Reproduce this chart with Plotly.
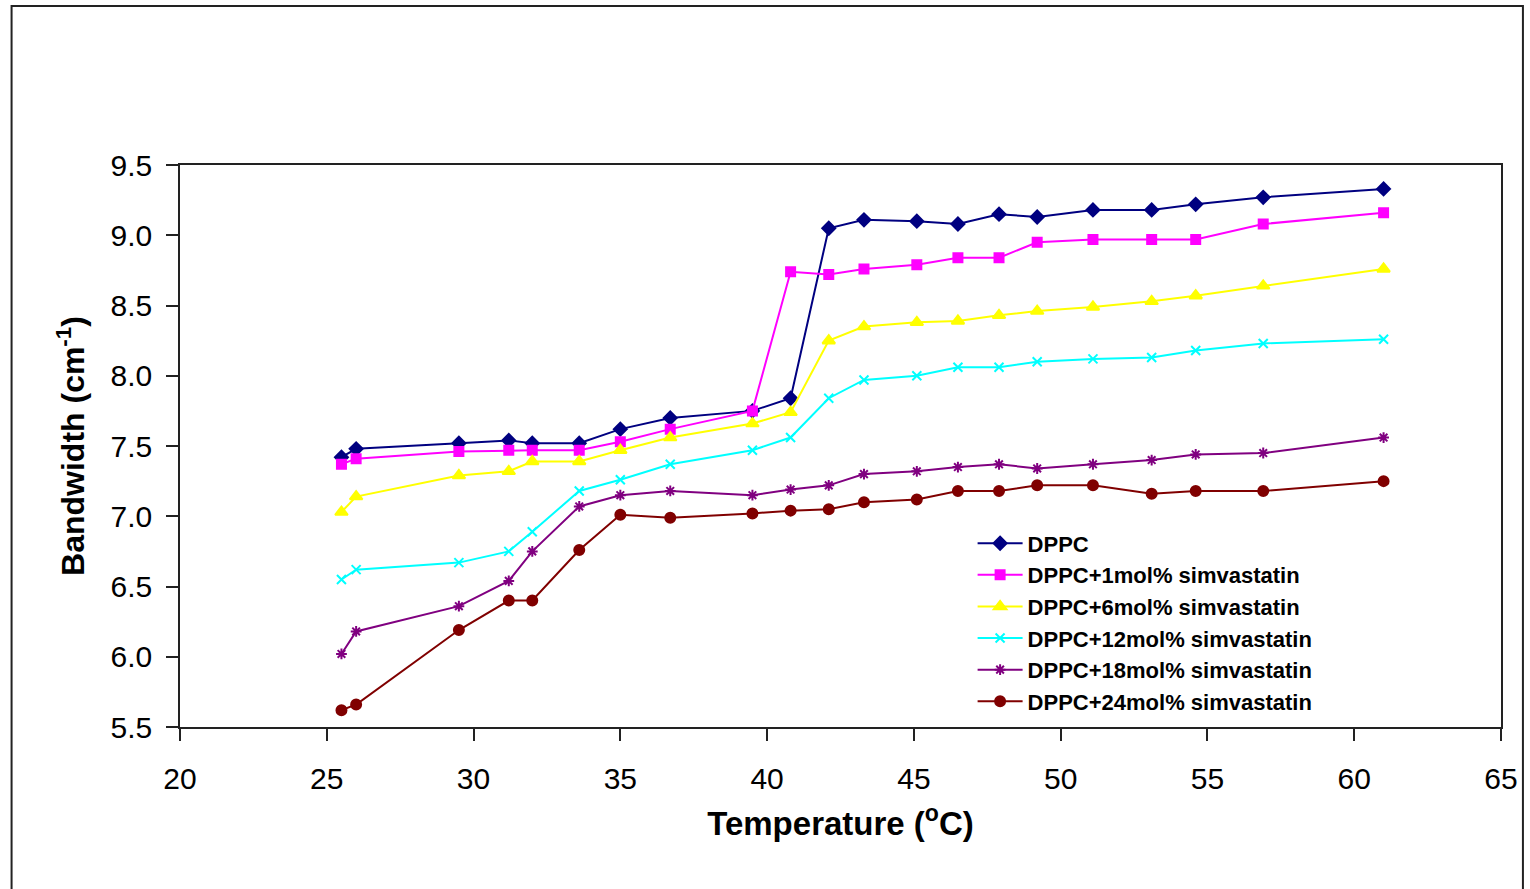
import plotly.graph_objects as go

temperature = [25.5, 26.0, 29.5, 31.2, 32.0, 33.6, 35.0, 36.7, 39.5, 40.8, 42.1,
               43.3, 45.1, 46.5, 47.9, 49.2, 51.1, 53.1, 54.6, 56.9, 61.0]

dppc = [7.42, 7.48, 7.52, 7.54, 7.52, 7.52, 7.62, 7.70, 7.75, 7.84, 9.05,
        9.11, 9.10, 9.08, 9.15, 9.13, 9.18, 9.18, 9.22, 9.27, 9.33]
sim1 = [7.37, 7.41, 7.46, 7.47, 7.47, 7.47, 7.53, 7.62, 7.75, 8.74, 8.72,
        8.76, 8.79, 8.84, 8.84, 8.95, 8.97, 8.97, 8.97, 9.08, 9.16]
sim6 = [7.03, 7.14, 7.29, 7.32, 7.39, 7.39, 7.47, 7.56, 7.66, 7.74, 8.25,
        8.35, 8.38, 8.39, 8.43, 8.46, 8.49, 8.53, 8.57, 8.64, 8.76]
sim12 = [6.55, 6.62, 6.67, 6.75, 6.89, 7.18, 7.26, 7.37, 7.47, 7.56, 7.84,
         7.97, 8.00, 8.06, 8.06, 8.10, 8.12, 8.13, 8.18, 8.23, 8.26]
sim18 = [6.02, 6.18, 6.36, 6.54, 6.75, 7.07, 7.15, 7.18, 7.15, 7.19, 7.22,
         7.30, 7.32, 7.35, 7.37, 7.34, 7.37, 7.40, 7.44, 7.45, 7.56]
sim24 = [5.62, 5.66, 6.19, 6.40, 6.40, 6.76, 7.01, 6.99, 7.02, 7.04, 7.05,
         7.10, 7.12, 7.18, 7.18, 7.22, 7.22, 7.16, 7.18, 7.18, 7.25]

names = ["DPPC", "DPPC+1mol% simvastatin", "DPPC+6mol% simvastatin",
         "DPPC+12mol% simvastatin", "DPPC+18mol% simvastatin", "DPPC+24mol% simvastatin"]
series = [dppc, sim1, sim6, sim12, sim18, sim24]
colors = ["#000080", "#FF00FF", "#FFFF00", "#00FFFF", "#800080", "#800000"]
symbols = ["diamond", "square", "triangle-up", "x-thin-open", "asterisk-open", "circle"]
sizes = [10, 9, 11, 9, 9, 10]

FONT = "Liberation Sans, Arial, sans-serif"

fig = go.Figure()
for name, vals, col, sym, sz in zip(names, series, colors, symbols, sizes):
    fig.add_trace(go.Scatter(
        x=temperature, y=vals, name=name, mode="lines+markers",
        line=dict(color=col, width=2),
        marker=dict(symbol=sym, size=sz, color=col, line=dict(color=col, width=2)),
    ))

axis_common = dict(
    showgrid=False, zeroline=False, showline=True, mirror=True,
    linecolor="#222222", linewidth=1.5, ticks="outside", ticklen=12,
    tickwidth=1.5, tickcolor="#222222",
    tickfont=dict(family=FONT, size=30, color="#000000"),
)

fig.update_layout(
    width=1530, height=889,
    margin=dict(l=180, r=25, t=165, b=162),
    paper_bgcolor="white", plot_bgcolor="white",
    showlegend=True,
    legend=dict(
        x=0.600, y=0.364, xanchor="left", yanchor="top",
        bgcolor="rgba(0,0,0,0)", borderwidth=0, itemwidth=45,
        font=dict(family=FONT, size=22, color="#000000", weight="bold"),
        tracegroupgap=0,
    ),
    xaxis=dict(
        range=[20, 65], dtick=5, tick0=20,
        title=dict(text="Temperature (<sup>o</sup>C)", standoff=18,
                   font=dict(family=FONT, size=33, color="#000000", weight="bold")),
        ticklabelstandoff=12,
        **axis_common,
    ),
    yaxis=dict(
        range=[5.5, 9.5], dtick=0.5, tick0=5.5, tickformat=".1f",
        title=dict(text="Bandwidth (cm<sup>-1</sup>)", standoff=16,
                   font=dict(family=FONT, size=32, color="#000000", weight="bold")),
        ticklabelstandoff=8,
        **axis_common,
    ),
    shapes=[dict(
        type="rect", xref="paper", yref="paper",
        x0=-0.1275, x1=1.0166, y0=-0.31, y1=1.2829,
        line=dict(color="#222222", width=2), fillcolor="rgba(0,0,0,0)",
    )],
)

fig.write_html("out.html")
